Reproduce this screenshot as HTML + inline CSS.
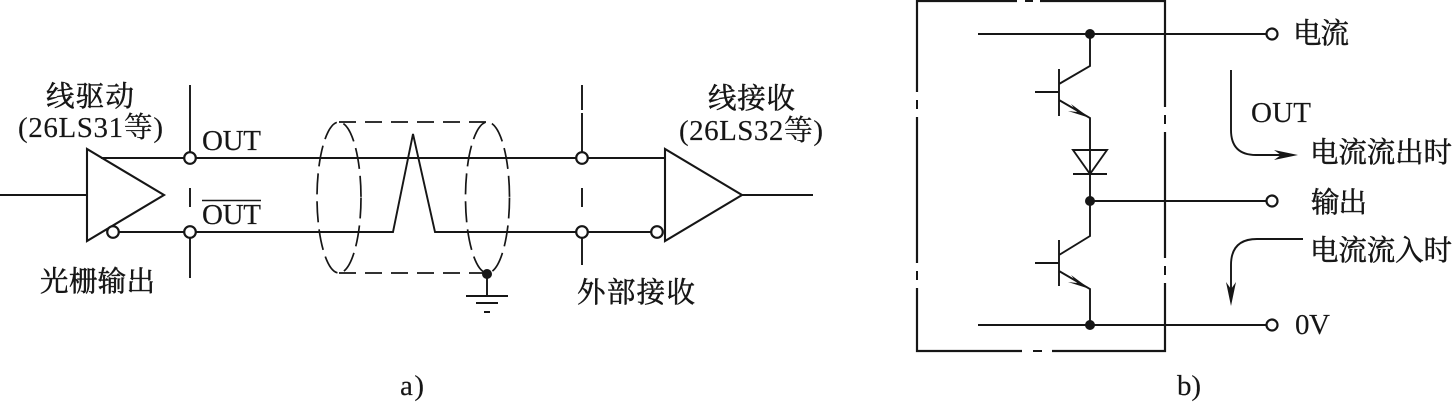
<!DOCTYPE html>
<html><head><meta charset="utf-8"><style>
html,body{margin:0;padding:0;background:#fff}
svg{display:block}
text{font-family:"Liberation Serif","Noto Serif CJK SC",serif;font-size:29px;fill:#161616;stroke:#161616;stroke-width:.15px}
.c{font-size:28.5px;stroke-width:.5px}
</style></head><body>
<svg width="1455" height="403" viewBox="0 0 1455 403" xmlns="http://www.w3.org/2000/svg">
<g fill="none" stroke="#161616" stroke-width="1.9">
<!-- driver -->
<path d="M0 195H87"/>
<path d="M87 149V241L164 195Z" stroke-width="2.1"/>
<path d="M101 158H665M119 232H393L413 134L435 232H651"/>
<path d="M190 85V152M190 188V207M190 238V278"/>
<!-- cable -->
<g stroke-width="1.7" stroke-dasharray="21 7">
<ellipse cx="339" cy="197.5" rx="22" ry="75.5"/>
<ellipse cx="487.5" cy="197.5" rx="22" ry="75.5"/>
<path d="M339 122H487M339 273H487" stroke-dasharray="17 9"/>
</g>
<!-- ground -->
<path d="M487 274V296M466 296H508M476 303H498M484 312H490"/>
<!-- receiver side -->
<path d="M582 85V110M582 113V152M582 188V207M582 238V265"/>
<path d="M665 149V241L742 195Z" stroke-width="2.1"/>
<path d="M742 195H813"/>
<!-- box -->
<path d="M917 1V351H1165V1Z" stroke-width="2.2"/>
<!-- circuit -->
<path d="M978 34H1266M978 325H1266M1090 201H1266" stroke-width="2"/>
<path d="M1090 34V66L1059 84M1059 69V116M1035 92H1059M1059 100L1090 118V201M1073 150H1107L1090 174ZM1073 174H1107" />
<path d="M1090 201V236L1059 255M1059 240V286M1035 263H1059M1059 271L1090 289V325"/>
<!-- current arrows -->
<path d="M1231 70V130Q1231 155 1256 155H1285M1303 239H1257Q1231 239 1231 265V295"/>
</g>
<!-- gaps in box -->
<g fill="#fff">
<rect x="1017" y="0" width="23" height="4"/><rect x="1022" y="349" width="30" height="4"/>
<rect x="915" y="92" width="4" height="25"/><rect x="915" y="263" width="4" height="25"/>
<rect x="1163" y="107" width="4" height="25"/><rect x="1163" y="258" width="4" height="25"/>
</g>
<g fill="#161616">
<rect x="1025" y="0" width="8" height="2"/><rect x="1033" y="350" width="9" height="2"/>
<rect x="916" y="100" width="2" height="9"/><rect x="916" y="271" width="2" height="9"/>
<rect x="1164" y="115" width="2" height="9"/><rect x="1164" y="266" width="2" height="9"/>
<circle cx="487" cy="274" r="5"/><circle cx="1090" cy="34" r="5"/><circle cx="1090" cy="201" r="5"/><circle cx="1090" cy="325" r="5"/>
<path d="M1090 118L1071 104L1077 112L1068 111Z"/>
<path d="M1090 289L1071 275L1077 283L1068 282Z"/>
<path d="M1298 155L1274 150L1281 155L1274 160Z"/>
<path d="M1231 306L1226 282L1231 289L1236 282Z"/>
</g>
<g fill="#fff" stroke="#161616" stroke-width="2.2">
<circle cx="190" cy="158" r="5.8"/><circle cx="190" cy="232" r="5.8"/>
<circle cx="113" cy="232" r="5.8"/>
<circle cx="582" cy="158" r="5.8"/><circle cx="582" cy="232" r="5.8"/>
<circle cx="657" cy="232" r="5.8"/>
<circle cx="1272" cy="34" r="5.5"/><circle cx="1272" cy="201" r="5.5"/><circle cx="1272" cy="325" r="5.5"/>
</g>
<path d="M202 200.5H261" stroke="#161616" stroke-width="1.5"/>
<!-- labels -->
<text class="c" x="46" y="106" textLength="88" lengthAdjust="spacing">线驱动</text>
<text x="18" y="137" textLength="145" lengthAdjust="spacing">(26LS31等)</text>
<text x="202" y="150" textLength="59">OUT</text>
<text x="202" y="224" textLength="59">OUT</text>
<text class="c" x="40" y="291" textLength="115">光栅输出</text>
<text class="c" x="708" y="108" textLength="87">线接收</text>
<text x="679" y="140" textLength="144">(26LS32等)</text>
<text class="c" x="577" y="302" textLength="118">外部接收</text>
<text x="400" y="395" textLength="24">a)</text>
<text x="1177" y="395" textLength="24">b)</text>
<text class="c" x="1293" y="43" textLength="56">电流</text>
<text x="1251" y="122" textLength="60">OUT</text>
<text class="c" x="1310" y="162" textLength="142">电流流出时</text>
<text class="c" x="1311" y="212" textLength="56">输出</text>
<text class="c" x="1310" y="260" textLength="142">电流流入时</text>
<text x="1295" y="334" textLength="35">0V</text>
</svg>
</body></html>
